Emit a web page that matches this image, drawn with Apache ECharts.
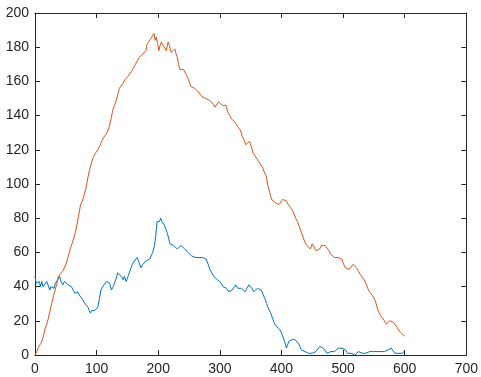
<!DOCTYPE html>
<html>
<head>
<meta charset="utf-8">
<script src="https://cdn.jsdelivr.net/npm/echarts@6/dist/echarts.min.js"></script>
<style>html,body{margin:0;padding:0;background:#fff;}#c{width:481px;height:377px;}</style>
</head>
<body>
<div id="c"></div>
<script>
const xTicks = [0, 100, 200, 300, 400, 500, 600, 700];
const yTicks = [0, 20, 40, 60, 80, 100, 120, 140, 160, 180, 200];

const blueSeries = [
[0,46],[2,42],[4,41],[7,43],[9,40],[11,43],[13,40],[16,41],[19,43],[21,42],[24,38],[26,40],[29,41],[31,39],[33,42],[35,42],[37,44],[40,46],[42,43],[45,41],[48,43],[51,42],[54,41],[57,42],[59,40],[62,38],[65,36],[67,37],[69,37],[72,35],[75,34],[78,32],[81,30],[84,29],[86,28],[88,26],[90,24.5],[92,26],[94,25],[97,26],[100,27],[102,28],[104,32],[107,38],[110,40],[113,41],[116,43],[118,44],[121,42],[124,38],[127,40],[129,41],[132,45],[134,48],[137,47],[140,46],[143,44],[145,46],[148,43],[151,46],[153,48],[156,51],[158,53],[161,55],[164,56],[166,57],[169,54],[172,51],[175,53],[177,54],[180,55],[183,54],[186,56],[188,57],[191,60],[194,64],[196,70],[198,78],[200,79],[202,78],[204,80],[206,78],[208,77],[210,76],[213,73],[215,71],[217,68],[219,65],[222,64],[225,64],[228,63],[231,62],[234,63],[237,64],[240,63],[243,62],[245,61],[248,60],[251,60],[254,58],[257,57],[260,57],[263,56],[266,57],[269,58],[272,57],[275,58],[278,56],[281,53],[284,50],[287,48],[290,46],[293,45],[296,44],[299,43],[302,42],[305,40],[308,39],[311,39],[314,37],[317,38],[320,38],[323,38],[326,41],[329,39],[332,38],[335,39],[338,38],[341,37],[344,39],[347,41],[349,42],[352,39],[355,37],[358,38],[361,39],[364,38],[367,38],[370,37],[373,33],[376,30],[379,27],[382,25],[385,22],[388,19],[391,17],[394,16],[397,15],[400,13],[403,12],[405,8],[408,4],[410,6],[412,8],[414,9],[417,9],[420,8],[422,9],[425,8],[427,7],[430,5],[432,3],[435,3],[438,2],[441,2],[444,1],[447,2],[450,1],[453,1],[456,2],[459,3],[462,5],[465,4],[468,4],[471,3],[474,1],[477,1],[480,2],[483,3],[486,2],[489,3],[492,4],[495,5],[498,4],[501,5],[504,3],[507,1],[510,2],[513,1],[516,1],[519,0],[522,1],[525,2],[528,2],[531,1],[534,2],[537,1],[540,1],[543,2],[546,1],[549,2],[552,3],[555,2],[558,1],[561,2],[564,1],[567,2],[570,3],[573,3],[576,4],[578,4],[581,3],[584,1],[587,2],[590,1],[593,2],[596,1],[599,2]
];

const orangeSeries = [
[0,0],[3,2],[6,5],[10,7],[13,10],[16,15],[20,19],[24,25],[27,30],[31,36],[35,41],[38,46],[41,47],[45,49],[49,52],[52,55],[55,59],[58,63],[61,66],[65,71],[68,76],[71,82],[74,88],[77,90],[80,94],[83,98],[86,104],[89,109],[92,113],[95,116],[98,118],[102,120],[105,122],[108,125],[111,127],[115,129],[118,131],[121,134],[124,139],[126,143],[129,146],[132,149],[134,152],[137,156],[140,157],[143,159],[146,161],[148,162],[151,163],[154,164],[157,166],[160,168],[163,170],[166,172],[169,174],[172,175],[175,176],[177,177],[180,178],[182,182],[185,182],[188,185],[191,186],[193,188],[195,184],[197,186],[199,182],[201,178],[203,181],[205,183],[208,181],[211,180],[213,178],[216,183],[218,181],[221,177],[224,178],[227,179],[229,176],[231,174],[233,170],[235,167],[238,168],[241,167],[244,166],[247,163],[250,160],[253,157],[256,157],[259,156],[262,155],[265,154],[268,153],[271,151],[274,152],[277,150],[280,151],[283,149],[286,148],[289,147],[292,145],[295,146],[298,148],[301,148],[304,146],[307,147],[310,146],[313,142],[316,140],[319,138],[322,137],[325,136],[328,134],[331,133],[334,131],[336,128],[339,126],[342,123],[345,124],[348,125],[351,122],[354,118],[357,117],[360,115],[363,113],[366,112],[369,110],[372,107],[375,105],[378,99],[381,95],[384,91],[387,90],[390,89],[393,90],[396,88],[399,89],[402,91],[405,92],[408,90],[411,88],[414,87],[417,85],[420,83],[423,80],[426,78],[429,75],[432,72],[435,69],[438,66],[441,64],[444,64],[447,62],[450,65],[453,64],[456,61],[459,60],[462,62],[465,64],[468,63],[471,64],[474,63],[477,61],[480,59],[483,58],[486,57],[489,58],[492,57],[495,57],[498,56],[501,53],[504,51],[507,52],[510,50],[513,51],[516,53],[519,54],[522,51],[525,49],[528,47],[531,46],[534,44],[537,42],[540,39],[543,37],[546,36],[549,34],[552,32],[555,28],[558,25],[561,23],[564,22],[567,20],[570,18],[573,19],[576,20],[579,19],[582,19],[585,18],[588,16],[591,14],[594,13],[597,12],[600,11]
];

const axisColor = '#262626';
const font = 'Liberation Sans, Arial, Helvetica, sans-serif';

function xAx(pos, show) {
  return {
    type: 'value', position: pos, min: xTicks[0], max: xTicks[xTicks.length - 1], interval: 100,
    axisLine: { show: true, onZero: false, lineStyle: { color: axisColor, width: 1 } },
    axisTick: { show: true, inside: true, length: 5, lineStyle: { color: axisColor } },
    axisLabel: { show: show, color: axisColor, fontSize: 14, fontFamily: font, margin: 7 },
    splitLine: { show: false }
  };
}
function yAx(pos, show) {
  return {
    type: 'value', position: pos, min: yTicks[0], max: yTicks[yTicks.length - 1], interval: 20,
    axisLine: { show: true, onZero: false, lineStyle: { color: axisColor, width: 1 } },
    axisTick: { show: true, inside: true, length: 5, lineStyle: { color: axisColor } },
    axisLabel: { show: show, color: axisColor, fontSize: 14, fontFamily: font, margin: 6 },
    splitLine: { show: false }
  };
}

const chart = echarts.init(document.getElementById('c'), null, { renderer: 'canvas' });
chart.setOption({
  animation: false,
  backgroundColor: '#ffffff',
  grid: { left: 35, right: 12, top: 13, bottom: 22, containLabel: false },
  xAxis: [xAx('bottom', true), xAx('top', false)],
  yAxis: [yAx('left', true), yAx('right', false)],
  series: [
    { type: 'line', data: blueSeries, showSymbol: false, symbol: 'none',
      lineStyle: { color: '#0072BD', width: 1 }, xAxisIndex: 0, yAxisIndex: 0 },
    { type: 'line', data: orangeSeries, showSymbol: false, symbol: 'none',
      lineStyle: { color: '#D95319', width: 1 }, xAxisIndex: 0, yAxisIndex: 0 }
  ]
});
</script>
</body>
</html>
